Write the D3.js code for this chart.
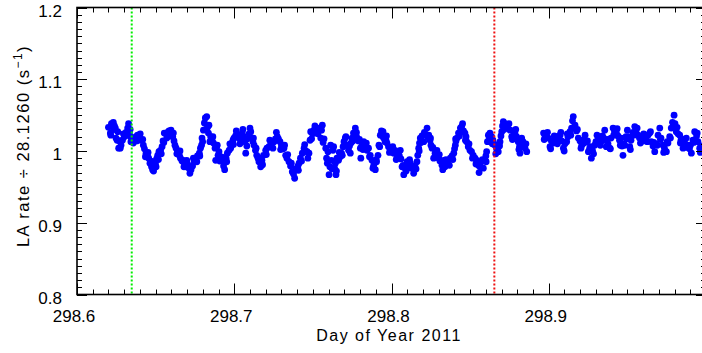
<!DOCTYPE html>
<html>
<head>
<meta charset="utf-8">
<script src="https://cdn.jsdelivr.net/npm/d3@7"></script>
<style>
  body { margin: 0; background: #fff; }
  svg { display: block; }
  text { font-family: "Liberation Sans", Arial, Helvetica, sans-serif; fill: #000; }
</style>
</head>
<body>
<div id="chart"></div>
<script>
// LA count rate, normalised, vs day of year
const days = [
  298.6200, 298.6212, 298.6219, 298.6231, 298.6238, 298.6244, 298.6248, 298.6259, 298.6265, 298.6270,
  298.6280, 298.6289, 298.6301, 298.6312, 298.6322, 298.6328, 298.6333, 298.6340, 298.6343, 298.6353,
  298.6364, 298.6375, 298.6385, 298.6396, 298.6407, 298.6422, 298.6429, 298.6439, 298.6448, 298.6456,
  298.6464, 298.6474, 298.6481, 298.6492, 298.6499, 298.6506, 298.6513, 298.6521, 298.6531, 298.6541,
  298.6547, 298.6555, 298.6566, 298.6576, 298.6585, 298.6598, 298.6609, 298.6617, 298.6623, 298.6630,
  298.6639, 298.6651, 298.6658, 298.6668, 298.6676, 298.6684, 298.6693, 298.6703, 298.6712, 298.6725,
  298.6735, 298.6746, 298.6757, 298.6766, 298.6778, 298.6785, 298.6792, 298.6799, 298.6804, 298.6810,
  298.6816, 298.6825,
  298.6830, 298.6836, 298.6839, 298.6850, 298.6859, 298.6868, 298.6878, 298.6882, 298.6892, 298.6897,
  298.6903, 298.6913, 298.6924, 298.6932, 298.6939, 298.6948, 298.6956, 298.6967, 298.6977, 298.6986,
  298.6992, 298.6998, 298.7008, 298.7019, 298.7030, 298.7041, 298.7051, 298.7059, 298.7068, 298.7073,
  298.7084, 298.7094, 298.7105, 298.7113, 298.7119, 298.7126, 298.7135, 298.7143, 298.7151, 298.7157,
  298.7168, 298.7176, 298.7186, 298.7200, 298.7208, 298.7221, 298.7231, 298.7240, 298.7253, 298.7262,
  298.7274, 298.7281, 298.7291, 298.7300, 298.7310, 298.7316, 298.7327, 298.7335, 298.7348, 298.7358,
  298.7369, 298.7377, 298.7384, 298.7396, 298.7405, 298.7412, 298.7421, 298.7433, 298.7444, 298.7453,
  298.7463, 298.7475, 298.7482, 298.7486, 298.7498, 298.7507, 298.7520, 298.7529, 298.7539, 298.7550,
  298.7555, 298.7560, 298.7571, 298.7582, 298.7592, 298.7596, 298.7603, 298.7613, 298.7618, 298.7628,
  298.7632, 298.7638, 298.7643, 298.7647, 298.7653, 298.7663, 298.7674, 298.7682, 298.7692, 298.7698,
  298.7706, 298.7717, 298.7727, 298.7738, 298.7742, 298.7749, 298.7758, 298.7770, 298.7777, 298.7781,
  298.7790, 298.7802, 298.7805, 298.7812, 298.7823, 298.7835, 298.7844, 298.7854, 298.7865, 298.7876,
  298.7887, 298.7897, 298.7905, 298.7914, 298.7920, 298.7929, 298.7936, 298.7943, 298.7950, 298.7959,
  298.7965, 298.7971, 298.7981, 298.7992, 298.8003, 298.8014, 298.8022, 298.8035, 298.8045, 298.8056,
  298.8060, 298.8067, 298.8078, 298.8086, 298.8099, 298.8108, 298.8120, 298.8127, 298.8141, 298.8149,
  298.8162, 298.8167, 298.8173, 298.8178, 298.8183, 298.8194, 298.8205, 298.8213, 298.8226, 298.8237,
  298.8245, 298.8251, 298.8258, 298.8268, 298.8277, 298.8289, 298.8300, 298.8308, 298.8321, 298.8331,
  298.8340, 298.8353, 298.8362, 298.8374, 298.8385, 298.8396, 298.8401, 298.8406, 298.8410, 298.8417,
  298.8426, 298.8438,
  298.8446, 298.8458, 298.8467, 298.8474, 298.8478, 298.8488, 298.8499, 298.8509, 298.8520, 298.8531,
  298.8542, 298.8547, 298.8552, 298.8563, 298.8572, 298.8584, 298.8595, 298.8600, 298.8605, 298.8610,
  298.8616, 298.8626, 298.8637, 298.8645, 298.8658, 298.8668, 298.8679, 298.8687, 298.8690, 298.8696,
  298.8701, 298.8706, 298.8711, 298.8722, 298.8733, 298.8741, 298.8754, 298.8764, 298.8773, 298.8785,
  298.8795, 298.8806, 298.8814, 298.8817, 298.8828, 298.8836, 298.8849, 298.8860,
  298.8967, 298.8976, 298.8986, 298.8997, 298.9008, 298.9017, 298.9029, 298.9040, 298.9051, 298.9059,
  298.9072, 298.9081, 298.9093, 298.9103, 298.9114, 298.9122, 298.9135, 298.9145, 298.9151, 298.9156,
  298.9167, 298.9176, 298.9188, 298.9199, 298.9210, 298.9218, 298.9231, 298.9240, 298.9252,
  298.9260, 298.9271, 298.9278, 298.9292, 298.9300, 298.9313, 298.9324, 298.9332, 298.9342, 298.9356,
  298.9361, 298.9366, 298.9377, 298.9388, 298.9396, 298.9409, 298.9418, 298.9430, 298.9440, 298.9450,
  298.9461, 298.9466, 298.9472, 298.9483, 298.9491, 298.9500, 298.9507, 298.9515, 298.9523, 298.9536,
  298.9547, 298.9555, 298.9568, 298.9577, 298.9589, 298.9599, 298.9609, 298.9620, 298.9631, 298.9642,
  298.9652, 298.9663, 298.9674, 298.9682, 298.9695, 298.9706, 298.9714, 298.9727, 298.9736, 298.9748,
  298.9758, 298.9769, 298.9779, 298.9787, 298.9797, 298.9803, 298.9811, 298.9822, 298.9833, 298.9841,
  298.9854, 298.9863, 298.9875, 298.9886, 298.9895, 298.9907, 298.9917, 298.9928, 298.9940, 298.9949,
  298.9960, 298.9968,
  // second pass: the scatter around the main band
  298.6215, 298.6235, 298.6255, 298.6275, 298.6295, 298.6318, 298.6338, 298.6358, 298.6380, 298.6402,
  298.6418, 298.6435, 298.6452, 298.6470, 298.6487, 298.6503, 298.6518, 298.6536, 298.6552, 298.6571,
  298.6592, 298.6613, 298.6635, 298.6655, 298.6680, 298.6698, 298.6718, 298.6740, 298.6762, 298.6781,
  298.6795, 298.6821, 298.6845, 298.6864, 298.6887, 298.6908, 298.6928, 298.6952, 298.6972, 298.6995,
  298.7013, 298.7036, 298.7055, 298.7080, 298.7100, 298.7122, 298.7139, 298.7160, 298.7180, 298.7204,
  298.7226, 298.7246, 298.7268, 298.7295, 298.7320, 298.7340, 298.7363, 298.7390, 298.7408, 298.7428,
  298.7448, 298.7468, 298.7492, 298.7513, 298.7533, 298.7565, 298.7587, 298.7608, 298.7623, 298.7650,
  298.7668, 298.7687, 298.7710, 298.7733, 298.7754, 298.7775, 298.7796, 298.7818, 298.7840, 298.7860,
  298.7882, 298.7902, 298.7925, 298.7946, 298.7968, 298.7987, 298.8008, 298.8030, 298.8050, 298.8073,
  298.8093, 298.8115, 298.8135, 298.8156, 298.8176, 298.8188, 298.8209, 298.8231, 298.8248, 298.8263,
  298.8283, 298.8304, 298.8326, 298.8346, 298.8368, 298.8390, 298.8408, 298.8432, 298.8452, 298.8470,
  298.8493, 298.8515, 298.8537, 298.8557, 298.8578, 298.8602, 298.8621, 298.8641, 298.8663, 298.8684,
  298.8716, 298.8747, 298.8769, 298.8790, 298.8810, 298.8832, 298.8855,
  298.8971, 298.8992, 298.9012, 298.9035, 298.9055, 298.9077, 298.9098, 298.9118, 298.9140, 298.9162,
  298.9182, 298.9205, 298.9225, 298.9246, 298.9265, 298.9285, 298.9307, 298.9328, 298.9349, 298.9372,
  298.9392, 298.9413, 298.9435, 298.9455, 298.9478, 298.9496, 298.9519, 298.9541, 298.9562, 298.9583,
  298.9604, 298.9626, 298.9647, 298.9668, 298.9690, 298.9710, 298.9731, 298.9753, 298.9774, 298.9792,
  298.9816, 298.9837, 298.9858, 298.9880, 298.9901, 298.9922, 298.9944, 298.9964
];
const rates = [
  1.033, 1.025, 1.038, 1.040, 1.035, 1.032, 1.018, 1.027, 1.004, 1.014,
  1.008, 1.015, 1.020, 1.026, 1.032, 1.038, 1.025, 1.020, 1.013, 1.017,
  1.018, 1.020, 1.022, 1.020, 1.015, 1.008, 1.003, 0.997, 0.993, 0.990,
  0.983, 0.978, 0.974, 0.985, 0.982, 0.989, 0.994, 0.999, 1.001, 1.006,
  1.014, 1.025, 1.024, 1.026, 1.028, 1.029, 1.020, 1.014, 1.008, 1.004,
  1.000, 0.994, 0.990, 0.986, 0.987, 0.982, 0.978, 0.982, 0.976, 0.974,
  0.979, 0.985, 0.990, 0.993, 0.997, 1.004, 1.008, 1.013, 1.029, 1.039,
  1.046, 1.048,
  1.033, 1.025, 1.036, 1.020, 1.015, 1.011, 1.004, 0.987, 1.008, 0.994,
  0.999, 0.992, 0.987, 0.979, 0.974, 0.990, 0.997, 1.001, 1.004, 1.011,
  1.015, 1.018, 1.021, 1.022, 1.018, 1.015, 1.025, 1.020, 1.013, 0.997,
  1.017, 1.024, 1.027, 1.018, 1.013, 1.008, 1.001, 0.994, 0.990, 0.985,
  0.978, 0.987, 0.994, 1.001, 1.004, 1.006, 1.008, 1.011, 1.013, 1.017,
  1.020, 1.017, 1.013, 1.007, 1.003, 1.004, 0.994, 0.990, 0.985, 0.979,
  0.971, 0.968, 0.962, 0.974, 0.979, 0.983, 0.990, 0.997, 1.004, 1.000,
  0.999, 0.997, 1.015, 1.027, 1.024, 1.029, 1.025, 1.031, 1.032, 1.018,
  1.029, 1.036, 1.017, 1.004, 0.983, 0.999, 0.967, 1.008, 0.987, 1.001,
  1.006, 0.976, 0.983, 0.967, 0.990, 0.987, 0.992, 0.997, 1.006, 1.013,
  1.018, 1.008, 1.001, 0.997, 1.011, 1.018, 1.025, 1.032, 1.026, 1.018,
  1.014, 1.004, 0.990, 1.008, 1.013, 1.007, 1.001, 1.004, 0.994, 0.987,
  0.980, 0.974, 0.985, 0.994, 1.008, 1.022, 1.028, 1.021, 1.018, 1.013,
  1.015, 1.011, 1.006, 1.004, 1.000, 0.997, 1.001, 0.992, 0.999, 1.001,
  0.989, 0.978, 0.967, 0.976, 0.985, 0.980, 0.983, 0.976, 0.969, 0.979,
  0.985, 0.994, 1.004, 1.011, 1.018, 1.021, 1.013, 1.024, 1.032, 1.022,
  1.015, 1.008, 1.004, 0.990, 0.997, 1.001, 0.990, 0.986, 0.980, 0.987,
  0.978, 0.983, 0.987, 0.990, 0.993, 0.997, 1.003, 1.008, 1.014, 1.018,
  1.025, 1.032,
  1.034, 1.028, 1.025, 1.020, 1.013, 1.006, 1.001, 0.999, 0.994, 0.990,
  0.987, 0.983, 0.980, 0.978, 0.985, 0.976, 0.987, 0.993, 0.999, 1.013,
  1.022, 1.025, 1.020, 1.015, 1.008, 1.003, 0.999, 1.007, 1.013, 1.021,
  1.027, 1.035, 1.041, 1.038, 1.036, 1.032, 1.029, 1.020, 1.028, 1.025,
  1.020, 1.013, 1.006, 0.997, 1.018, 1.013, 1.004, 0.999,
  1.025, 1.022, 1.020, 1.018, 1.006, 1.014, 1.011, 1.017, 1.020, 1.015,
  1.022, 1.014, 1.004, 1.010, 1.013, 1.020, 1.027, 1.032, 1.042, 1.048,
  1.036, 1.028, 1.018, 1.014, 1.008, 1.015, 1.022, 1.013, 0.999,
  1.004, 0.990, 1.001, 1.008, 1.013, 1.015, 1.018, 1.013, 1.021, 1.029,
  1.015, 1.006, 1.010, 1.004, 1.018, 1.032, 1.028, 1.025, 1.021, 1.015,
  1.018, 1.007, 0.994, 1.008, 1.020, 1.029, 1.020, 1.006, 1.015, 1.026,
  1.034, 1.028, 1.022, 1.018, 1.018, 1.014, 1.018, 1.020, 1.022, 1.025,
  1.013, 1.007, 0.999, 1.010, 1.022, 1.032, 1.018, 1.008, 1.004, 0.999,
  1.011, 1.020, 1.032, 1.040, 1.050, 1.038, 1.027, 1.024, 1.022, 1.015,
  1.004, 1.013, 1.018, 1.008, 1.003, 0.997, 1.015, 1.027, 1.021, 1.013,
  1.004, 1.007,
  // second pass
  1.022, 1.030, 1.015, 1.004, 1.024, 1.022, 1.030, 1.011, 1.014, 1.024,
  1.016, 0.992, 0.998, 0.986, 0.972, 0.978, 0.988, 0.996, 1.012, 1.018,
  1.021, 1.025, 0.996, 1.000, 0.978, 0.987, 0.969, 0.990, 0.985, 0.993,
  1.018, 1.030, 1.013, 1.020, 1.005, 0.986, 0.991, 0.985, 1.010, 1.009,
  1.028, 1.010, 1.030, 1.007, 1.032, 1.018, 1.004, 0.990, 0.981, 0.995,
  1.015, 1.004, 1.026, 1.002, 1.008, 0.995, 0.983, 0.975, 0.973, 0.986,
  1.009, 0.990, 1.017, 1.035, 1.024, 1.012, 0.990, 0.978, 0.975, 0.972,
  0.998, 0.994, 1.020, 1.007, 1.014, 1.022, 1.016, 1.002, 1.011, 0.992,
  0.976, 0.988, 1.006, 1.027, 1.021, 0.998, 1.006, 0.988, 0.993, 0.980,
  0.972, 0.988, 0.979, 0.975, 1.000, 1.012, 1.026, 1.020, 1.018, 1.005,
  0.992, 0.995, 0.974, 0.988, 0.980, 0.988, 1.017, 1.021, 1.038, 1.015,
  1.010, 0.990, 0.982, 0.970, 0.988, 0.985, 1.015, 1.010, 0.996, 1.010,
  1.030, 1.038, 1.016, 1.030, 1.002, 1.008, 1.010,
  1.016, 1.026, 1.003, 1.021, 1.010, 1.026, 1.000, 1.024, 1.022, 1.033,
  1.030, 1.004, 1.011, 1.014, 1.006, 0.996, 1.022, 1.008, 1.018, 1.016,
  1.003, 1.022, 1.031, 1.008, 1.010, 1.017, 1.002, 1.022, 1.032, 1.011,
  1.024, 1.013, 1.027, 1.012, 1.008, 1.016, 0.998, 1.013, 1.018, 1.036,
  1.033, 1.011, 1.016, 1.005, 1.008, 1.012, 1.025, 0.998
];

// vertical marker lines (green, red)
const markerDays = [298.6348, 298.8654];
const markerColors = ['#00ee00', '#ee1111'];

const xDomain = [298.6, 299.0];
const yDomain = [0.8, 1.2];
const xMajor = [298.6, 298.7, 298.8, 298.9];
const xLabels = ['298.6', '298.7', '298.8', '298.9'];
const yMajor = [0.8, 0.9, 1.0, 1.1, 1.2];
const yLabels = ['0.8', '0.9', '1', '1.1', '1.2'];

const W = 702, H = 353;
const frame = { left: 77, right: 706, top: 7.5, bottom: 294.5 };

const x = d3.scaleLinear().domain(xDomain).range([frame.left, frame.right]);
const y = d3.scaleLinear().domain(yDomain).range([frame.bottom, frame.top]);

// minor ticks every 0.01, skipping the majors
const notMajor = (v, lo) => {
  const f = Math.abs(((v - lo) * 10) % 1);
  return f > 0.05 && f < 0.95;
};
const xMinor = d3.range(1, 40).map(i => 298.6 + i * 0.01).filter(v => notMajor(v, 298.6));
const yMinor = d3.range(1, 40).map(i => 0.8 + i * 0.01).filter(v => notMajor(v, 0.8));

const svg = d3.select('#chart').append('svg')
  .attr('width', W)
  .attr('height', H)
  .attr('viewBox', `0 0 ${W} ${H}`);

// data points
svg.append('g').attr('class', 'points')
  .selectAll('circle')
  .data(days.map((d, i) => ({ day: d, rate: rates[i] })))
  .enter()
  .append('circle')
  .attr('cx', d => x(d.day))
  .attr('cy', d => y(d.rate))
  .attr('r', 3.4)
  .attr('fill', '#0000ff');

// marker lines
svg.append('g').attr('class', 'markers')
  .selectAll('line')
  .data(markerDays)
  .enter()
  .append('line')
  .attr('x1', d => x(d)).attr('x2', d => x(d))
  .attr('y1', frame.top).attr('y2', frame.bottom)
  .attr('stroke', (d, i) => markerColors[i])
  .attr('stroke-width', 2)
  .attr('stroke-dasharray', '2,2');

// ticks on all four sides, pointing inward
const ticks = svg.append('g').attr('class', 'ticks')
  .attr('stroke', '#000').attr('stroke-width', 1);

function xTicks(vals, len) {
  ticks.selectAll(null).data(vals).enter().append('line')
    .attr('x1', d => Math.round(x(d)) + 0.5).attr('x2', d => Math.round(x(d)) + 0.5)
    .attr('y1', frame.bottom).attr('y2', frame.bottom - len);
  ticks.selectAll(null).data(vals).enter().append('line')
    .attr('x1', d => Math.round(x(d)) + 0.5).attr('x2', d => Math.round(x(d)) + 0.5)
    .attr('y1', frame.top).attr('y2', frame.top + len);
}
function yTicks(vals, len) {
  ticks.selectAll(null).data(vals).enter().append('line')
    .attr('y1', d => Math.round(y(d)) + 0.5).attr('y2', d => Math.round(y(d)) + 0.5)
    .attr('x1', frame.left).attr('x2', frame.left + len);
  ticks.selectAll(null).data(vals).enter().append('line')
    .attr('y1', d => Math.round(y(d)) + 0.5).attr('y2', d => Math.round(y(d)) + 0.5)
    .attr('x1', frame.right).attr('x2', frame.right - len);
}
xTicks(xMajor, 11);
xTicks(xMinor, 5);
yTicks(yMajor, 10);
yTicks(yMinor, 5);

// frame
svg.append('rect')
  .attr('x', frame.left).attr('y', frame.top)
  .attr('width', frame.right - frame.left)
  .attr('height', frame.bottom - frame.top)
  .attr('fill', 'none')
  .attr('stroke', '#000')
  .attr('stroke-width', 1.6);

// tick labels
svg.append('g').selectAll('text')
  .data(xMajor)
  .enter()
  .append('text')
  .attr('x', d => x(d) - 3)
  .attr('y', 321.5)
  .attr('text-anchor', 'middle')
  .attr('font-size', 17)
  .text((d, i) => xLabels[i]);

svg.append('g').selectAll('text')
  .data(yMajor)
  .enter()
  .append('text')
  .attr('x', 62)
  .attr('y', d => y(d) + 9)
  .attr('text-anchor', 'end')
  .attr('font-size', 17)
  .text((d, i) => yLabels[i]);

// axis titles
svg.append('text')
  .attr('x', 389)
  .attr('y', 341)
  .attr('text-anchor', 'middle')
  .attr('font-size', 16)
  .attr('letter-spacing', 1.5)
  .text('Day of Year 2011');

const yTitle = svg.append('text')
  .attr('transform', 'translate(29,146) rotate(-90)')
  .attr('text-anchor', 'middle')
  .attr('font-size', 16.5)
  .attr('letter-spacing', 1.5);
yTitle.append('tspan').text('LA rate \u00f7 28.1260 (s');
yTitle.append('tspan').attr('dy', -7).attr('font-size', 12).text('\u22121');
yTitle.append('tspan').attr('dy', 7).text(')');
</script>
</body>
</html>
